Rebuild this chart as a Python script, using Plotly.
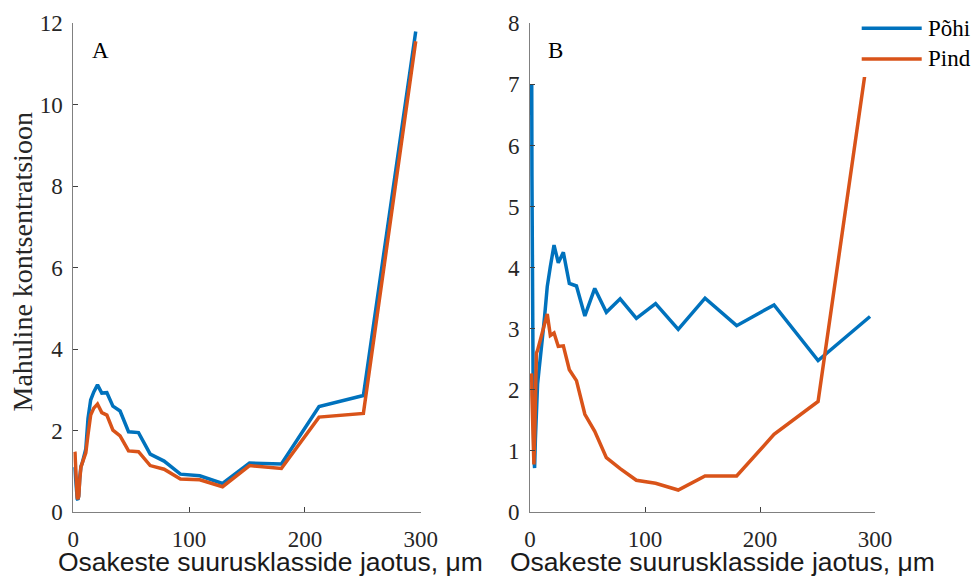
import plotly.graph_objects as go

# Particle size classes (µm)
size_um = [1.25, 1.5, 1.7, 2.1, 2.4, 2.9, 3.4, 4.0, 4.7, 5.6, 6.6, 7.7, 9.1, 10.8, 12.7,
           15.0, 17.7, 20.9, 24.6, 29.0, 34.2, 40.4, 47.7, 56.3, 66.4, 78.4, 92.5, 109.2,
           128.9, 152.2, 179.7, 212.2, 250.5, 295.7]

# Panel A
a_pohi = [1.1, 1.0, 0.9, 0.7, 0.5, 0.38, 0.32, 0.3, 0.4, 0.85, 1.12, 1.2, 1.35, 1.55, 2.3,
          2.75, 2.95, 3.12, 2.92, 2.93, 2.60, 2.48, 1.97, 1.95, 1.42, 1.25, 0.93, 0.89,
          0.70, 1.20, 1.18, 2.59, 2.86, 11.8]
a_pind = [1.48, 1.45, 1.3, 1.0, 0.7, 0.45, 0.35, 0.32, 0.38, 0.8, 1.1, 1.2, 1.3, 1.45, 1.9,
          2.38, 2.55, 2.65, 2.44, 2.38, 2.01, 1.87, 1.50, 1.48, 1.14, 1.05, 0.81, 0.79,
          0.62, 1.14, 1.07, 2.33, 2.42, 11.56]

# Panel B
b_pohi = [6.5, 7.0, 5.5, 3.5, 2.3, 1.5, 0.9, 0.72, 1.2, 1.7, 2.1, 2.3, 2.6, 2.85, 3.2,
          3.69, 4.02, 4.37, 4.08, 4.25, 3.74, 3.70, 3.21, 3.66, 3.27, 3.49, 3.17, 3.41,
          2.99, 3.50, 3.05, 3.39, 2.48, 3.20]
b_pind = [2.27, 2.2, 1.9, 1.5, 1.1, 0.85, 0.78, 1.2, 2.0, 2.6, 2.65, 2.72, 2.8, 2.95, 3.08,
          3.24, 2.89, 2.93, 2.71, 2.72, 2.33, 2.15, 1.60, 1.32, 0.89, 0.71, 0.52, 0.47,
          0.36, 0.59, 0.59, 1.27, 1.81, 7.75]

series_names = ["Põhi", "Pind"]
x_ticks = [0, 100, 200, 300]
a_yticks = [0, 2, 4, 6, 8, 10, 12]
b_yticks = [0, 1, 2, 3, 4, 5, 6, 7, 8]
panel_labels = ["A", "B"]
x_title = "Osakeste suurusklasside jaotus, μm"
y_title = "Mahuline kontsentratsioon"

BLUE = "#0072BD"
ORANGE = "#D95319"
W, H = 974, 576
LW = 3.5

fig = go.Figure()
fig.add_trace(go.Scatter(x=size_um, y=a_pohi, mode="lines", name=series_names[0],
                         line=dict(color=BLUE, width=LW), xaxis="x", yaxis="y", showlegend=False))
fig.add_trace(go.Scatter(x=size_um, y=a_pind, mode="lines", name=series_names[1],
                         line=dict(color=ORANGE, width=LW), xaxis="x", yaxis="y", showlegend=False))
fig.add_trace(go.Scatter(x=size_um, y=b_pohi, mode="lines", name=series_names[0],
                         line=dict(color=BLUE, width=LW), xaxis="x2", yaxis="y2", showlegend=False))
fig.add_trace(go.Scatter(x=size_um, y=b_pind, mode="lines", name=series_names[1],
                         line=dict(color=ORANGE, width=LW), xaxis="x2", yaxis="y2", showlegend=False))

tickfont = dict(family="Liberation Serif", size=23, color="#262626")
common_x = dict(range=[0, 300], tickvals=x_ticks, ticks="inside", ticklen=5, tickwidth=1,
                tickcolor="#404040", showline=True, linecolor="#808080", linewidth=1,
                showgrid=False, zeroline=False, tickfont=tickfont, ticklabelstandoff=6,
                automargin=False, fixedrange=True)
common_y = dict(ticks="inside", ticklen=5, tickwidth=1, tickcolor="#404040", showline=True,
                linecolor="#808080", linewidth=1, showgrid=False, zeroline=False,
                tickfont=tickfont, ticklabelstandoff=5, automargin=False, fixedrange=True)

def px_x(p):
    return p / W

def px_y(p):
    return 1 - p / H

ydom = [px_y(512), px_y(23.3)]
fig.update_layout(
    width=W, height=H,
    margin=dict(l=0, r=0, t=0, b=0, autoexpand=False),
    paper_bgcolor="white", plot_bgcolor="white",
    xaxis=dict(domain=[px_x(73.3), px_x(420.7)], anchor="y", **common_x),
    yaxis=dict(domain=ydom, anchor="x", range=[0, 12], tickvals=a_yticks, **common_y),
    xaxis2=dict(domain=[px_x(530), px_x(875)], anchor="y2", **common_x),
    yaxis2=dict(domain=ydom, anchor="x2", range=[0, 8], tickvals=b_yticks, **common_y),
)

shapes = [
    # legend box (covers the line beneath it)
    dict(type="rect", xref="paper", yref="paper", x0=px_x(855), x1=px_x(974),
         y0=px_y(77), y1=px_y(12), fillcolor="white", line=dict(width=0), layer="above"),
    dict(type="line", xref="paper", yref="paper", x0=px_x(861.7), x1=px_x(921.7),
         y0=px_y(28.3), y1=px_y(28.3), line=dict(color=BLUE, width=LW), layer="above"),
    dict(type="line", xref="paper", yref="paper", x0=px_x(861.7), x1=px_x(921.7),
         y0=px_y(59), y1=px_y(59), line=dict(color=ORANGE, width=LW), layer="above"),
]
fig.update_layout(shapes=shapes)

serif = "Liberation Serif"
annotations = []
for name, yy in zip(series_names, [28, 58.5]):
    annotations.append(dict(text=name, xref="paper", yref="paper", x=px_x(926), y=px_y(yy),
                            xanchor="left", yanchor="middle", showarrow=False,
                            font=dict(family=serif, size=23, color="black")))
for lab, xx in zip(panel_labels, [100, 555]):
    annotations.append(dict(text=lab, xref="paper", yref="paper", x=px_x(xx), y=px_y(50),
                            xanchor="center", yanchor="middle", showarrow=False,
                            font=dict(family=serif, size=23, color="black")))
for xx in [56, 508]:
    annotations.append(dict(text=x_title, xref="paper", yref="paper", x=px_x(xx), y=px_y(562),
                            xanchor="left", yanchor="middle", showarrow=False,
                            font=dict(family="Liberation Sans", size=26.5, color="#1a1a1a")))
annotations.append(dict(text=y_title, xref="paper", yref="paper", x=px_x(22), y=px_y(262.5),
                        xanchor="center", yanchor="middle", textangle=-90, showarrow=False,
                        font=dict(family=serif, size=28, color="#262626")))
fig.update_layout(annotations=annotations)

fig.write_html("out.html")
